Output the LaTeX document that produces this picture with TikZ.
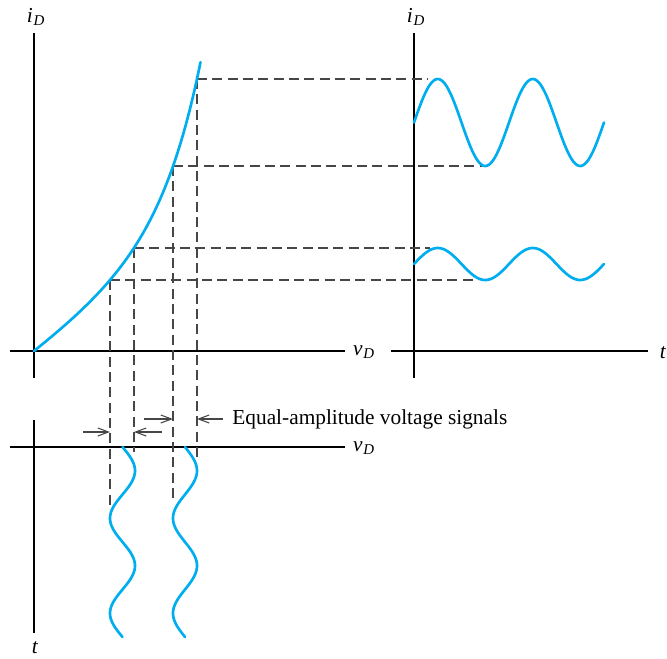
\documentclass[tikz,border=0pt]{standalone}
\usepackage{fontspec}
\setmainfont{Liberation Serif}
\usepackage{tikz}
\usetikzlibrary{positioning,arrows.meta}
\definecolor{processcyan}{RGB}{0,174,239}
\definecolor{dashgray}{RGB}{70,70,70}
\newcommand{\vlabel}[2]{\textit{#1}\kern0.5pt\textsubscript{\textit{#2}}}

\begin{document}
\begin{tikzpicture}[x=0.75pt, y=-0.75pt, semithick, font=\fontsize{16}{19}\selectfont,
        axis/.style={draw=black, line width=0.9pt},
        wave/.style={draw=processcyan, line width=2pt, line cap=round},
        guide/.style={draw=dashgray, line width=0.9pt, dash pattern=on 7.5pt off 4pt},
        marker/.style={draw=dashgray, line width=0.8pt, -{Straight Barb[length=8pt, width=6pt]}}]
        \useasboundingbox (0,0) rectangle (667,658);

        \coordinate (O) at (34,351);
        \coordinate (p1) at (110,280);
        \coordinate (p2) at (134,248);
        \coordinate (p3) at (173,166);
        \coordinate (p4) at (197,79);

        \draw[axis] (34,33) -- (34,378);
        \draw[axis] (10,351) -- (345,351);
        \draw[axis] (414,33) -- (414,378);
        \draw[axis] (391,351) -- (648,351);
        \draw[axis] (34,420) -- (34,633);
        \draw[axis] (10,447) -- (345,447);

        \node (iDl) at (36,17) {\vlabel{i}{D}};
        \node (iDr) at (416,17) {\vlabel{i}{D}};
        \node (vDu) at (364,352) {\vlabel{v}{D}};
        \node (vDl) at (364,448) {\vlabel{v}{D}};
        \node (tr) at (663,353) {\textit{t}};
        \node (tb) at (35,648) {\textit{t}};

        \coordinate (r1) at (478,280);
        \coordinate (r2) at (430,248);
        \coordinate (r3) at (482,166);
        \coordinate (r4) at (428,79);
        \coordinate (d1) at (110,508);
        \coordinate (d2) at (134,452);
        \coordinate (d3) at (173,503);
        \coordinate (d4) at (197,458);

        \draw[guide] (p1) -- (r1);
        \draw[guide] (p2) -- (r2);
        \draw[guide] (p3) -- (r3);
        \draw[guide] (p4) -- (r4);
        \draw[guide] (p1) -- (d1);
        \draw[guide] (p2) -- (d2);
        \draw[guide] (p3) -- (d3);
        \draw[guide] (p4) -- (d4);

        \draw[wave] plot[domain=0:166.5, samples=80] ({34+\x},{351-0.738*\x-2.625*(exp(\x/40)-1)});
        \draw[wave] plot[domain=0:190, samples=100] ({414+\x},{122.5-43.5*sin(\x*3.7895)});
        \draw[wave] plot[domain=0:190, samples=100] ({414+\x},{264-16*sin(\x*3.7895)});
        \draw[wave] plot[domain=0:190, samples=100] ({122.5+12.5*sin(\x*3.7895)},{447+\x});
        \draw[wave] plot[domain=0:190, samples=100] ({185+12*sin(\x*3.7895)},{447+\x});

        \coordinate (a1) at (83,432);
        \coordinate (a2) at (162,432);
        \coordinate (a3) at (144,419);
        \coordinate (a4) at (223,419);
        \draw[marker] (a1) -- (p1 |- a1);
        \draw[marker] (a2) -- (p2 |- a2);
        \draw[marker] (a3) -- (p3 |- a3);
        \draw[marker] (a4) -- (p4 |- a4);
        \node[anchor=west, inner sep=0pt] (note) at (232,419) {Equal-amplitude voltage signals};
\end{tikzpicture}
\end{document}
